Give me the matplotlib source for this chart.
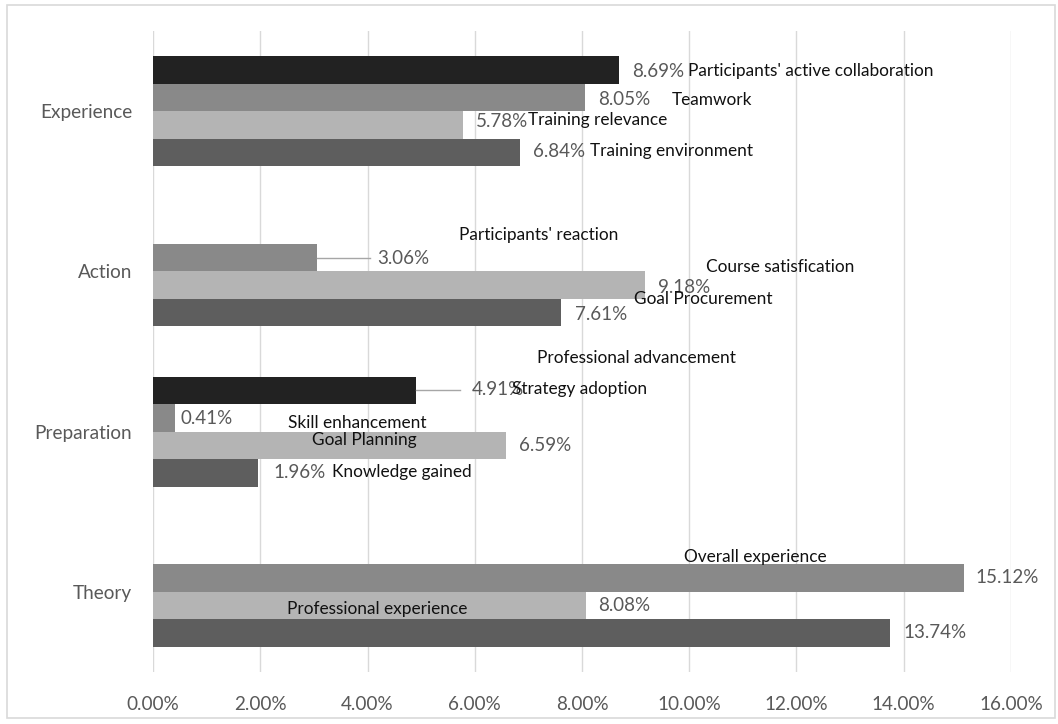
import matplotlib
matplotlib.use("Agg")
import matplotlib.pyplot as plt
import numpy as np
from matplotlib.patches import Rectangle

plt.rcParams['font.family'] = ['Lato', 'DejaVu Sans']

# ---- data ----
categories = ["Theory", "Preparation", "Action", "Experience"]
series_a = [np.nan, 4.91, np.nan, 8.69]
series_b = [15.12, 0.41, 3.06, 8.05]
series_c = [8.08, 6.59, 9.18, 5.78]
series_d = [13.74, 1.96, 7.61, 6.84]
xticks = [0, 2, 4, 6, 8, 10, 12, 14, 16]

value_labels = ["8.69%", "8.05%", "5.78%", "6.84%", "3.06%", "9.18%", "7.61%",
                "4.91%", "0.41%", "6.59%", "1.96%", "15.12%", "8.08%", "13.74%"]
name_labels = ["Participants' active collaboration", "Teamwork", "Training relevance",
               "Training environment", "Participants' reaction", "Course satisfication",
               "Goal Procurement", "Professional advancement", "Strategy adoption",
               "Skill enhancement", "Goal Planning", "Knowledge gained",
               "Overall experience", "Professional experience"]

# ---- label placement (data coords) ----
value_pos = [(8.93, 3.25), (8.30, 3.075), (6.02, 2.938), (7.08, 2.745), (4.18, 2.083),
             (9.42, 1.902), (7.87, 1.734), (5.95, 1.260), (0.52, 1.085), (6.83, 0.911),
             (2.24, 0.748), (15.33, 0.087), (8.30, -0.087), (13.99, -0.256)]
name_pos = [(9.98, 3.25), (9.68, 3.069), (6.99, 2.944), (8.15, 2.751), (5.71, 2.227),
            (10.31, 2.027), (8.97, 1.828), (7.16, 1.460), (6.69, 1.266), (2.52, 1.054),
            (2.97, 0.948), (3.34, 0.748), (9.90, 0.218), (2.50, -0.106)]

colors = ["#222222", "#898989", "#b4b4b4", "#5e5e5e"]
W, H = 1058, 724
fig = plt.figure(figsize=(W / 100, H / 100), dpi=100)
fig.patch.set_facecolor("white")
fig.add_artist(Rectangle((7 / W, 6 / H), 1048 / W, 713 / H, transform=fig.transFigure,
                         fill=False, edgecolor="#d9d9d9", linewidth=1.2))

ax = fig.add_axes([153 / W, 52 / H, 858 / W, 641 / H])
y = np.arange(len(categories))
h = 0.1716
offsets = [1.5 * h, 0.5 * h, -0.5 * h, -1.5 * h]
for vals, off, c in zip([series_a, series_b, series_c, series_d], offsets, colors):
    v = np.array(vals, dtype=float)
    mask = ~np.isnan(v)
    ax.barh(y[mask] + off, v[mask], height=h, color=c, zorder=3)

# leader lines
ax.plot([series_b[2], 4.05], [2 + offsets[1], 2 + offsets[1]], color="#a6a6a6", lw=1, zorder=4)
ax.plot([series_a[1], 5.72], [1 + offsets[0], 1 + offsets[0]], color="#a6a6a6", lw=1, zorder=4)

for t, (px, py) in zip(value_labels, value_pos):
    ax.text(px, py, t, ha="left", va="center", fontsize=13.5, color="#595959", zorder=5)
for t, (px, py) in zip(name_labels, name_pos):
    ax.text(px, py, t, ha="left", va="center", fontsize=12.4, color="#111111", zorder=5)

ax.set_xlim(0, 16)
ax.set_ylim(-0.5, 3.5)
ax.set_xticks(xticks)
ax.set_xticklabels([f"{v:.2f}%" for v in xticks])
ax.set_yticks(y)
ax.set_yticklabels(categories)
ax.tick_params(axis="x", length=0, pad=17, labelsize=13.6, labelcolor="#595959")
ax.tick_params(axis="y", length=0, pad=15, labelsize=13.7, labelcolor="#595959")
ax.grid(axis="x", color="#d9d9d9", lw=1, zorder=0)
for s in ax.spines.values():
    s.set_visible(False)
ax.set_facecolor("white")

fig.savefig("out.png", dpi=100)
